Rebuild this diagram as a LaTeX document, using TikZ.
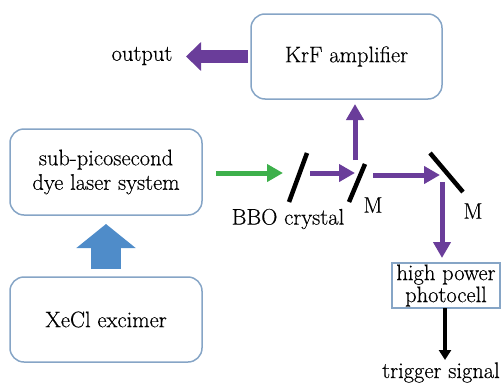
\documentclass[tikz,border=0pt]{standalone}
\usepackage{fontspec}
\setmainfont{Latin Modern Roman}[FakeBold=0.4]
\usetikzlibrary{arrows.meta}
\definecolor{boxb}{HTML}{86A5C6}
\definecolor{purp}{HTML}{6A3D9A}
\definecolor{bluea}{HTML}{4F8CC9}
\definecolor{greena}{HTML}{3DB04B}
\tikzset{
  rbox/.style={draw=boxb, line width=1.5pt, rounded corners=14pt, align=center, inner sep=0pt, font=\fontsize{22.5}{24.5}\selectfont},
  sbox/.style={draw=boxb, line width=1.2pt, align=center, inner sep=0pt, font=\fontsize{22.5}{22}\selectfont},
  lbl/.style={inner sep=0pt, font=\fontsize{22.5}{24}\selectfont},
  mirror/.style={line width=4.5pt, black},
  thinarr/.style={line width=5pt, -{Triangle[width=17pt,length=16pt]}},
}
\begin{document}
\begin{tikzpicture}[x=1pt,y=-1pt]
\useasboundingbox (0,0) rectangle (503,383);
% boxes
\node[rbox, minimum width=191pt, minimum height=85pt] (krf) at (346.5,56.5) {KrF amplifier};
\node[rbox, minimum width=192pt, minimum height=86pt] (sub) at (106,172) {sub-picosecond\\dye laser system};
\node[rbox, minimum width=192pt, minimum height=85pt] (xecl) at (106,319.5) {XeCl excimer};
\node[sbox, minimum width=108pt, minimum height=45pt] (pc) at (446,285.5) {high power\\photocell};
% labels
\node[lbl] (out) at (142,56) {output};
\node[lbl] (bbol) at (288,219) {BBO crystal};
\node[lbl] (m1l) at (373,205) {M};
\node[lbl] (m2l) at (473,211) {M};
\node[lbl, anchor=base] (trig) at (441,378) {trigger signal};
% mirrors
\coordinate (bboa) at (289,202); \coordinate (bbob) at (307,153);
\coordinate (m1a) at (349,202); \coordinate (m1b) at (365,164);
\coordinate (m2a) at (430,153); \coordinate (m2b) at (463,192);
\draw[mirror] (bboa) -- (bbob);
\draw[mirror] (m1a) -- (m1b);
\draw[mirror] (m2a) -- (m2b);
% arrow end points
\coordinate (g0) at (216,173); \coordinate (g1) at (283,173);
\coordinate (p0) at (310,173); \coordinate (p1) at (355,173);
\coordinate (u0) at (355,160); \coordinate (u1) at (355,104);
\coordinate (q0) at (373,175); \coordinate (q1) at (440,175);
\coordinate (d0) at (442,182); \coordinate (d1) at (442,258);
\coordinate (k0) at (445,308); \coordinate (k1) at (445,360);
\coordinate (o0) at (248,56.5); \coordinate (o1) at (186,56.5);
\coordinate (b0) at (106,269); \coordinate (b1) at (106,224);
% arrows
\draw[thinarr, greena] (g0) -- (g1);
\draw[thinarr, purp] (p0) -- (p1);
\draw[thinarr, purp] (u0) -- (u1);
\draw[thinarr, purp] (q0) -- (q1);
\draw[thinarr, purp] (d0) -- (d1);
\draw[line width=4pt, black, -{Triangle[width=12pt,length=10pt]}] (k0) -- (k1);
\draw[line width=13pt, purp, -{Triangle[width=28pt,length=15pt]}] (o0) -- (o1);
\draw[line width=30pt, bluea, -{Triangle[width=58pt,length=24pt]}] (b0) -- (b1);
\end{tikzpicture}
\end{document}
